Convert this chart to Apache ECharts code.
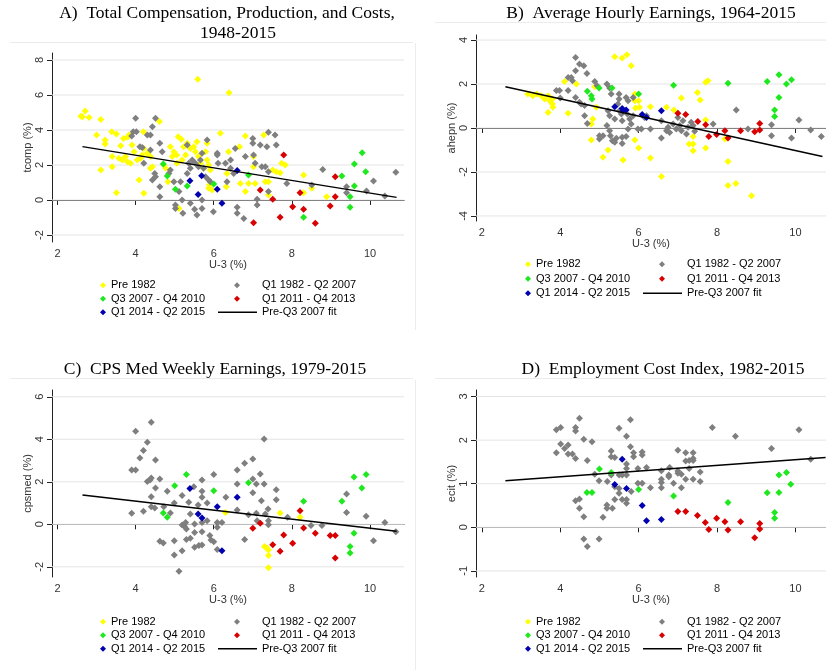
<!DOCTYPE html>
<html>
<head>
<meta charset="utf-8">
<title>Wage growth vs U-3</title>
<script src="https://cdn.jsdelivr.net/npm/echarts@6/dist/echarts.min.js"></script>
<style>
    html, body { margin: 0; padding: 0; background: #fff; }
    #chart { width: 826px; height: 670px; }
</style>
</head>
<body>
<div id="chart"></div>
<script>
// ---- data: [U-3 (%), wage growth (%)] ----
const groupNames = ["Pre 1982", "Q1 1982 - Q2 2007", "Q3 2007 - Q4 2010", "Q1 2011 - Q4 2013", "Q1 2014 - Q2 2015"];
const fitName = "Pre-Q3 2007 fit";

// A) tcomp
const tcompPre = [[2.64,4.76],[2.71,5.08],[2.81,4.72],[2.6,4.78],[3.11,4.6],[3.0,3.71],[3.11,1.71],[3.22,3.43],[3.22,3.2],[3.39,3.9],[3.51,3.77],[3.4,2.48],[3.4,1.9],[3.51,0.42],[3.62,3.1],[3.69,3.52],[3.79,3.58],[3.83,3.71],[3.57,2.38],[3.66,2.29],[3.74,2.48],[3.79,2.19],[3.87,2.1],[3.91,3.14],[3.96,2.76],[4.04,2.29],[4.13,2.38],[4.17,2.57],[4.21,2.95],[4.2,3.9],[4.09,1.14],[4.21,0.38],[4.3,2.67],[4.38,2.48],[4.43,1.9],[4.38,1.81],[4.61,4.48],[4.72,2.0],[4.77,1.81],[4.83,1.05],[4.89,3.05],[4.94,2.48],[4.98,2.76],[5.05,2.57],[5.09,3.62],[5.17,3.47],[5.23,3.05],[5.28,2.57],[5.19,2.29],[5.06,2.1],[5.11,-0.48],[5.32,3.24],[5.4,2.95],[5.49,3.05],[5.53,2.76],[5.57,3.33],[5.61,2.48],[5.59,6.9],[5.66,2.1],[5.74,1.81],[5.83,2.29],[5.87,2.0],[5.91,1.71],[5.83,3.24],[5.79,2.76],[5.89,0.86],[5.96,0.57],[5.87,0.67],[6.17,3.81],[6.39,6.13],[6.38,2.76],[6.34,1.52],[6.32,0.76],[6.66,3.05],[6.81,3.66],[6.68,0.95],[6.81,0.48],[6.89,0.95],[7.02,1.9],[7.06,0.95],[7.02,2.48],[7.28,3.71],[7.32,1.05],[7.4,1.05],[7.4,0.29],[7.51,1.71],[7.6,1.62],[7.7,1.56],[7.74,2.1],[7.83,2.0],[8.3,1.43],[8.3,0.42],[8.51,0.67],[8.89,0.19]];
const tcompMid = [[3.9,3.66],[3.94,3.9],[4.0,4.67],[4.02,3.9],[4.11,3.05],[4.17,3.0],[4.3,3.71],[4.38,3.71],[4.43,4.19],[4.51,4.67],[4.21,2.1],[4.38,2.86],[4.43,1.14],[4.49,1.52],[4.51,1.33],[4.62,3.24],[4.68,2.76],[4.62,0.76],[4.62,0.19],[4.85,1.52],[4.89,1.71],[5.02,-0.29],[5.02,-0.48],[4.98,1.05],[5.11,0.48],[5.19,0.0],[5.21,-0.76],[5.15,1.05],[5.32,3.14],[5.32,1.52],[5.36,2.1],[5.4,1.81],[5.4,-0.19],[5.51,-0.53],[5.57,-0.86],[5.45,2.29],[5.53,2.1],[5.61,1.9],[5.66,2.29],[5.7,2.67],[5.7,-0.48],[5.7,0.0],[5.74,1.81],[5.79,1.33],[5.83,3.43],[5.87,1.14],[5.91,1.05],[5.99,-0.67],[6.09,2.67],[6.11,2.1],[6.09,2.57],[6.3,2.1],[6.34,1.05],[6.43,2.29],[6.43,1.81],[6.51,1.52],[6.6,-0.42],[6.6,-0.76],[6.77,-1.05],[6.55,2.95],[6.81,2.48],[7.0,3.52],[7.0,3.24],[7.02,2.57],[7.06,2.1],[7.11,0.04],[7.11,-0.29],[7.19,3.14],[7.23,1.9],[7.32,1.9],[7.36,3.05],[7.4,3.87],[7.4,0.48],[7.4,1.62],[7.57,3.71],[7.6,3.14],[7.87,0.95],[8.51,0.86],[8.79,1.75],[9.4,0.76],[9.4,0.42],[9.91,0.51],[10.09,1.09],[10.38,0.23],[10.66,1.58]];
const tcompGreat = [[4.71,2.06],[4.81,1.37],[5.02,0.61],[5.32,0.8],[6.0,0.91],[6.89,1.43],[8.3,-0.99],[9.28,1.37],[9.49,0.19],[9.49,-0.42],[9.6,0.8],[9.6,2.06],[9.8,2.7],[9.89,1.62]];
const tcompRecov = [[7.79,2.57],[7.19,0.57],[7.02,-1.3],[7.51,0.04],[7.7,-0.99],[8.02,-0.38],[8.21,0.42],[8.3,-0.53],[8.6,-1.33],[8.98,-0.34],[9.11,1.33],[9.11,0.19]];
const tcompRecent = [[5.39,1.1],[5.6,0.32],[5.69,1.39],[6.09,0.61],[6.21,-0.19],[6.6,1.68]];
const tcompFit = [[2.64,3.05],[10.68,0.15]];

// B) ahepn
const ahepnPre = [[3.17,1.55],[3.3,1.47],[3.4,1.55],[3.51,1.47],[3.6,1.32],[3.69,1.47],[3.73,1.24],[3.8,1.32],[3.8,1.09],[3.81,0.94],[3.69,0.71],[4.11,2.12],[4.2,0.67],[4.41,2.0],[4.79,0.18],[4.83,0.41],[4.79,-0.55],[4.88,1.88],[4.92,0.94],[5.09,-1.33],[5.22,-1.0],[5.39,3.24],[5.58,3.18],[5.7,3.33],[5.81,2.83],[5.6,-1.45],[5.9,1.55],[5.9,1.24],[5.92,0.91],[6.0,1.24],[6.02,0.94],[5.9,-0.55],[6.0,-0.91],[6.3,0.97],[6.3,-1.36],[6.58,-2.21],[6.71,0.94],[6.9,0.82],[7.09,1.36],[7.29,-0.73],[7.39,-0.73],[7.39,-1.03],[7.39,-0.39],[7.5,1.62],[7.57,1.27],[7.71,2.08],[7.77,2.15],[7.71,0.36],[7.71,-0.91],[8.2,-0.5],[8.28,-1.52],[8.28,-2.62],[8.48,-2.52],[8.88,-3.08]];
const ahepnMid = [[3.9,1.7],[3.98,1.7],[4.0,1.36],[4.2,1.7],[4.2,2.3],[4.28,2.3],[4.31,2.15],[4.39,3.21],[4.39,2.6],[4.39,1.39],[4.49,2.91],[4.6,2.83],[4.68,2.48],[4.49,1.17],[4.53,1.09],[4.62,1.02],[4.62,0.56],[4.69,0.21],[4.88,2.12],[4.94,1.92],[5.0,-0.35],[5.0,-0.5],[5.09,-0.35],[5.19,2.0],[5.26,1.82],[5.3,1.55],[5.22,0.79],[5.26,0.56],[5.19,0.11],[5.26,-0.12],[5.28,-0.35],[5.33,-0.58],[5.39,-0.65],[5.43,-0.47],[5.39,0.41],[5.5,1.55],[5.5,1.32],[5.47,1.09],[5.51,0.79],[5.56,0.64],[5.58,0.33],[5.58,-0.42],[5.58,-0.7],[5.68,-0.39],[5.68,1.39],[5.73,1.24],[5.71,0.64],[5.77,0.41],[5.73,-0.05],[5.81,0.18],[5.86,1.39],[5.86,0.56],[5.98,-0.05],[6.07,-0.05],[6.15,0.48],[6.2,0.56],[6.3,-0.05],[6.58,0.33],[6.58,-0.45],[6.71,-0.12],[6.75,0.03],[6.79,-0.2],[6.88,0.18],[6.96,-0.05],[7.0,0.48],[7.05,0.11],[7.09,-0.12],[7.13,0.33],[7.22,-0.27],[7.26,0.03],[7.34,0.26],[7.39,0.11],[7.43,-0.15],[7.9,0.18],[8.49,0.82],[8.79,-0.05],[9.39,0.15],[9.39,-0.35],[9.9,-0.45],[10.09,0.36],[10.39,-0.09],[10.66,-0.39]];
const ahepnGreat = [[4.69,1.67],[4.81,1.32],[4.79,1.47],[4.99,1.82],[5.32,1.82],[6.0,1.55],[6.89,1.95],[8.28,2.03],[9.28,2.11],[9.47,0.82],[9.47,0.52],[9.58,2.42],[9.58,1.39],[9.77,2.0],[9.9,2.2]];
const ahepnRecov = [[7.0,0.67],[7.2,0.61],[7.51,0.3],[7.71,0.15],[7.79,-0.39],[7.99,-0.3],[8.2,-0.12],[8.28,-0.45],[8.6,-0.12],[8.96,-0.17],[9.09,0.21],[9.09,-0.09]];
const ahepnRecent = [[5.39,0.97],[5.58,0.89],[5.68,0.82],[5.6,0.8],[6.09,0.61],[6.2,0.48],[6.58,0.79]];
const ahepnFit = [[2.6,1.88],[10.69,-1.3]];

// C) cpsmed
const cpsmedPre = [[6.3,0.56],[7.3,-1.04],[7.36,-1.11],[7.4,-1.21],[7.4,-1.47],[7.4,-2.05],[7.7,0.53],[8.21,0.33]];
const cpsmedMid = [[3.9,0.52],[3.9,2.56],[4.0,2.56],[4.0,4.38],[4.11,3.12],[4.2,3.47],[4.2,0.61],[4.3,3.86],[4.3,2.02],[4.37,2.09],[4.4,2.18],[4.4,4.8],[4.4,1.3],[4.4,0.83],[4.49,0.77],[4.51,3.03],[4.51,1.71],[4.62,2.13],[4.62,-0.8],[4.71,-0.88],[4.72,0.83],[4.81,1.55],[4.89,0.53],[4.99,1.0],[4.99,-0.77],[4.99,-1.44],[5.11,-2.21],[5.19,1.35],[5.19,-0.03],[5.25,-0.09],[5.19,-1.24],[5.28,0.09],[5.3,-0.22],[5.3,-0.72],[5.36,1.04],[5.4,0.49],[5.4,-0.66],[5.49,1.77],[5.51,0.02],[5.51,-0.38],[5.51,-1.08],[5.6,0.91],[5.62,-1.0],[5.7,2.09],[5.7,1.55],[5.7,1.27],[5.7,0.09],[5.7,-0.35],[5.7,-0.97],[5.83,1.0],[5.83,0.17],[5.9,-0.53],[5.93,-0.74],[6.0,2.34],[6.0,-0.82],[6.09,0.09],[6.09,-0.14],[6.09,-1.19],[6.21,0.09],[6.31,1.27],[6.6,2.56],[6.6,1.9],[6.6,0.67],[6.79,-0.72],[6.79,2.87],[6.89,0.45],[7.0,3.07],[7.0,2.13],[7.0,1.49],[7.09,1.9],[7.09,0.52],[7.11,0.17],[7.19,2.37],[7.22,1.11],[7.29,4.02],[7.29,1.9],[7.32,0.49],[7.39,0.72],[7.4,0.17],[7.4,-0.02],[7.6,1.63],[7.6,1.16],[7.89,0.33],[8.49,-0.06],[8.77,-0.06],[9.4,1.43],[9.4,0.56],[9.9,0.38],[10.09,-0.77],[10.38,0.09],[10.66,-0.35]];
const cpsmedGreat = [[4.71,0.53],[4.81,0.33],[5.0,1.82],[5.3,2.34],[6.0,1.58],[6.89,1.95],[8.3,1.08],[9.28,1.08],[9.49,-1.04],[9.49,-1.35],[9.59,-0.42],[9.59,2.23],[9.79,1.71],[9.9,2.34]];
const cpsmedRecov = [[7.0,-0.19],[7.19,0.05],[7.51,-0.96],[7.7,-1.27],[7.79,-0.5],[8.02,-0.89],[8.21,0.64],[8.3,-0.17],[8.6,-0.42],[8.98,-0.53],[9.11,-0.53],[9.11,-1.58]];
const cpsmedRecent = [[5.39,1.69],[5.6,0.49],[5.7,0.3],[6.09,0.83],[6.21,-1.24],[6.6,1.27]];
const cpsmedFit = [[2.64,1.38],[10.68,-0.33]];

// D) ecit
const ecitPre = [];
const ecitMid = [[3.9,2.24],[4.01,2.29],[3.9,1.71],[4.01,1.91],[4.11,1.81],[4.2,1.89],[4.2,1.68],[4.31,1.68],[4.39,1.58],[4.39,2.29],[4.39,2.21],[4.49,2.5],[4.39,0.61],[4.49,0.65],[4.49,0.44],[4.6,2.02],[4.69,1.53],[4.81,1.96],[4.6,0.24],[4.6,-0.27],[4.69,-0.44],[4.88,1.22],[4.99,1.07],[4.99,-0.27],[5.09,0.23],[5.19,0.51],[5.19,0.44],[5.2,1.05],[5.3,1.75],[5.3,1.62],[5.39,1.6],[5.3,1.2],[5.33,0.44],[5.39,0.93],[5.39,0.64],[5.5,2.27],[5.5,1.2],[5.5,0.89],[5.5,0.78],[5.58,1.2],[5.58,0.64],[5.69,2.09],[5.69,1.45],[5.69,1.35],[5.69,1.2],[5.69,0.64],[5.69,0.55],[5.79,1.85],[5.79,2.47],[5.81,0.82],[5.87,1.71],[5.87,1.62],[5.98,1.35],[5.98,1.01],[6.09,1.73],[6.09,1.66],[6.09,1.01],[6.2,1.37],[6.3,0.91],[6.58,1.3],[6.58,1.1],[6.58,1.03],[6.58,0.91],[6.77,1.2],[6.77,1.16],[6.79,1.37],[6.89,1.01],[7.0,1.77],[7.0,1.29],[7.0,1.24],[7.09,1.22],[7.09,0.91],[7.2,1.71],[7.2,1.52],[7.2,1.1],[7.29,1.35],[7.29,1.53],[7.39,1.71],[7.39,1.58],[7.39,1.53],[7.39,1.1],[7.57,1.27],[7.57,1.05],[7.88,2.29],[8.47,2.09],[9.39,1.81],[10.09,2.24],[10.39,1.56]];
const ecitGreat = [[4.68,0.8],[4.81,0.8],[5.0,1.34],[5.3,1.26],[6.0,0.87],[6.89,0.72],[8.28,0.57],[9.28,0.79],[9.47,0.34],[9.47,0.21],[9.58,1.2],[9.58,0.8],[9.77,1.26],[9.88,0.99]];
const ecitRecov = [[7.0,0.36],[7.2,0.36],[7.5,0.27],[7.7,0.11],[7.79,-0.05],[7.99,0.21],[8.2,0.13],[8.28,-0.06],[8.6,0.13],[8.96,-0.24],[9.09,0.09],[9.09,-0.04]];
const ecitRecent = [[5.39,0.98],[5.58,1.56],[5.69,0.89],[6.09,0.5],[6.2,0.15],[6.58,0.18]];
const ecitFit = [[2.6,1.07],[10.77,1.6]];

// tick labels
const xTicks = [2, 4, 6, 8, 10];
const tcompTicks = [-2, 0, 2, 4, 6, 8];
const ahepnTicks = [-4, -2, 0, 2, 4];
const cpsmedTicks = [-2, 0, 2, 4, 6];
const ecitTicks = [-1, 0, 1, 2, 3];

// ---- styles / layout ----
const groupColors = ["#ffff00", "#7f7f7f", "#1fe81f", "#d80000", "#0000b0"];
const SANS = "Liberation Sans";
const SERIF = "Liberation Serif";

const panels = [
    { yName: "tcomp (%)", yTicks: tcompTicks, groups: [tcompPre, tcompMid, tcompGreat, tcompRecov, tcompRecent], fit: tcompFit,
      grid: { left: 52, top: 53, width: 352, height: 189 }, x: [1.86, 10.87], y: [-2.4, 8.4], legendTop: 278.5, rowH: 13.5, legendLeft: 100 },
    { yName: "ahepn (%)", yTicks: ahepnTicks, groups: [ahepnPre, ahepnMid, ahepnGreat, ahepnRecov, ahepnRecent], fit: ahepnFit,
      grid: { left: 476, top: 35, width: 350, height: 186 }, x: [1.85, 10.78], y: [-4.23, 4.23], legendTop: 257, rowH: 14.5, legendLeft: 525 },
    { yName: "cpsmed (%)", yTicks: cpsmedTicks, groups: [cpsmedPre, cpsmedMid, cpsmedGreat, cpsmedRecov, cpsmedRecent], fit: cpsmedFit,
      grid: { left: 52, top: 390, width: 352, height: 187 }, x: [1.86, 10.87], y: [-2.48, 6.32], legendTop: 615, rowH: 13.5, legendLeft: 100 },
    { yName: "ecit (%)", yTicks: ecitTicks, groups: [ecitPre, ecitMid, ecitGreat, ecitRecov, ecitRecent], fit: ecitFit,
      grid: { left: 476, top: 390, width: 350, height: 187 }, x: [1.85, 10.78], y: [-1.14, 3.15], legendTop: 615, rowH: 13.5, legendLeft: 525 }
];

const grids = [], xAxes = [], yAxes = [], series = [], legends = [];

panels.forEach((p, i) => {
    grids.push(Object.assign({ containLabel: false }, p.grid));

    xAxes.push({
        gridIndex: i, type: "value", min: p.x[0], max: p.x[1],
        name: "U-3 (%)", nameLocation: "middle", nameGap: 15,
        nameTextStyle: { fontFamily: SANS, fontSize: 11, color: "#333" },
        axisLine: { lineStyle: { color: "#222", width: 1 } },
        axisTick: { show: true, length: 5, customValues: xTicks, lineStyle: { color: "#222" } },
        axisLabel: { customValues: xTicks, margin: 6, fontFamily: SANS, fontSize: 11, color: "#333" },
        splitLine: { show: false }
    });

    yAxes.push({
        gridIndex: i, type: "value", min: p.y[0], max: p.y[1],
        name: p.yName, nameLocation: "middle", nameRotate: 90, nameGap: 18,
        nameTextStyle: { fontFamily: SANS, fontSize: 11, color: "#333" },
        axisLine: { show: true, lineStyle: { color: "#222", width: 1 } },
        axisTick: { show: true, length: 5, customValues: p.yTicks, lineStyle: { color: "#222" } },
        axisLabel: { customValues: p.yTicks, rotate: 90, margin: 7, fontFamily: SANS, fontSize: 11, color: "#333" },
        splitLine: { show: false }
    });

    // horizontal grid lines at the y ticks, one broken line series
    const gridPts = [];
    p.yTicks.forEach(v => { gridPts.push([p.x[0], v], [p.x[1], v], [p.x[1], "-"]); });
    series.push({
        name: "grid" + i, type: "line", xAxisIndex: i, yAxisIndex: i, data: gridPts,
        symbol: "none", connectNulls: false, z: 1, silent: true,
        lineStyle: { color: "#e4e4e4", width: 1 }
    });

    p.groups.forEach((data, g) => {
        series.push({
            name: groupNames[g], type: "scatter", xAxisIndex: i, yAxisIndex: i,
            data: data, symbol: "diamond", symbolSize: 7, z: 2,
            itemStyle: { color: groupColors[g], opacity: 1 },
            silent: true
        });
    });

    series.push({
        name: fitName, type: "line", xAxisIndex: i, yAxisIndex: i,
        data: p.fit, symbol: "none", z: 3, silent: true,
        lineStyle: { color: "#000", width: 1.5 },
        itemStyle: { color: "#000" }
    });

    // legend: left column, right column diamonds, fit line
    const legendText = { fontFamily: SANS, fontSize: 11, color: "#000", lineHeight: p.rowH };
    const base = { orient: "vertical", padding: 0, itemGap: 0, itemHeight: 6, selectedMode: false };
    legends.push(Object.assign({}, base, {
        left: p.legendLeft, top: p.legendTop, itemWidth: 6, textStyle: legendText,
        data: [groupNames[0], groupNames[2], groupNames[4]]
    }));
    legends.push(Object.assign({}, base, {
        left: p.legendLeft + 134, top: p.legendTop, itemWidth: 6,
        textStyle: Object.assign({ padding: [0, 0, 0, 17] }, legendText),
        data: [groupNames[1], groupNames[3]]
    }));
    legends.push(Object.assign({}, base, {
        left: p.legendLeft + 118, top: p.legendTop + 2 * p.rowH, itemWidth: 39, itemHeight: 1.3,
        textStyle: legendText,
        data: [{ name: fitName, icon: "rect" }]
    }));
});

const titleStyle = { fontFamily: SERIF, fontSize: 17.5, fontWeight: "normal", color: "#000" };
const titles = [
    { text: "A)  Total Compensation, Production, and Costs,", left: 227, top: 4 },
    { text: "1948-2015", left: 238, top: 24 },
    { text: "B)  Average Hourly Earnings, 1964-2015", left: 651, top: 4 },
    { text: "C)  CPS Med Weekly Earnings, 1979-2015", left: 215, top: 360 },
    { text: "D)  Employment Cost Index, 1982-2015", left: 663, top: 360 }
].map(t => Object.assign({ textAlign: "center", padding: 0, textStyle: titleStyle }, t));

// faint panel borders (graph region edges)
const frame = { stroke: "#ececec", lineWidth: 1 };
const graphics = [
    { type: "line", shape: { x1: 10, y1: 42.5, x2: 413, y2: 42.5 }, style: frame, silent: true },
    { type: "line", shape: { x1: 435, y1: 22.5, x2: 826, y2: 22.5 }, style: frame, silent: true },
    { type: "line", shape: { x1: 415.5, y1: 43, x2: 415.5, y2: 330 }, style: frame, silent: true },
    { type: "line", shape: { x1: 10, y1: 378.5, x2: 413, y2: 378.5 }, style: frame, silent: true },
    { type: "line", shape: { x1: 435, y1: 378.5, x2: 826, y2: 378.5 }, style: frame, silent: true },
    { type: "line", shape: { x1: 415.5, y1: 380, x2: 415.5, y2: 670 }, style: frame, silent: true }
];

const chart = echarts.init(document.getElementById("chart"), null, { renderer: "canvas" });
chart.setOption({
    animation: false,
    backgroundColor: "#fff",
    title: titles,
    grid: grids,
    xAxis: xAxes,
    yAxis: yAxes,
    legend: legends,
    graphic: graphics,
    series: series
});
</script>
</body>
</html>
